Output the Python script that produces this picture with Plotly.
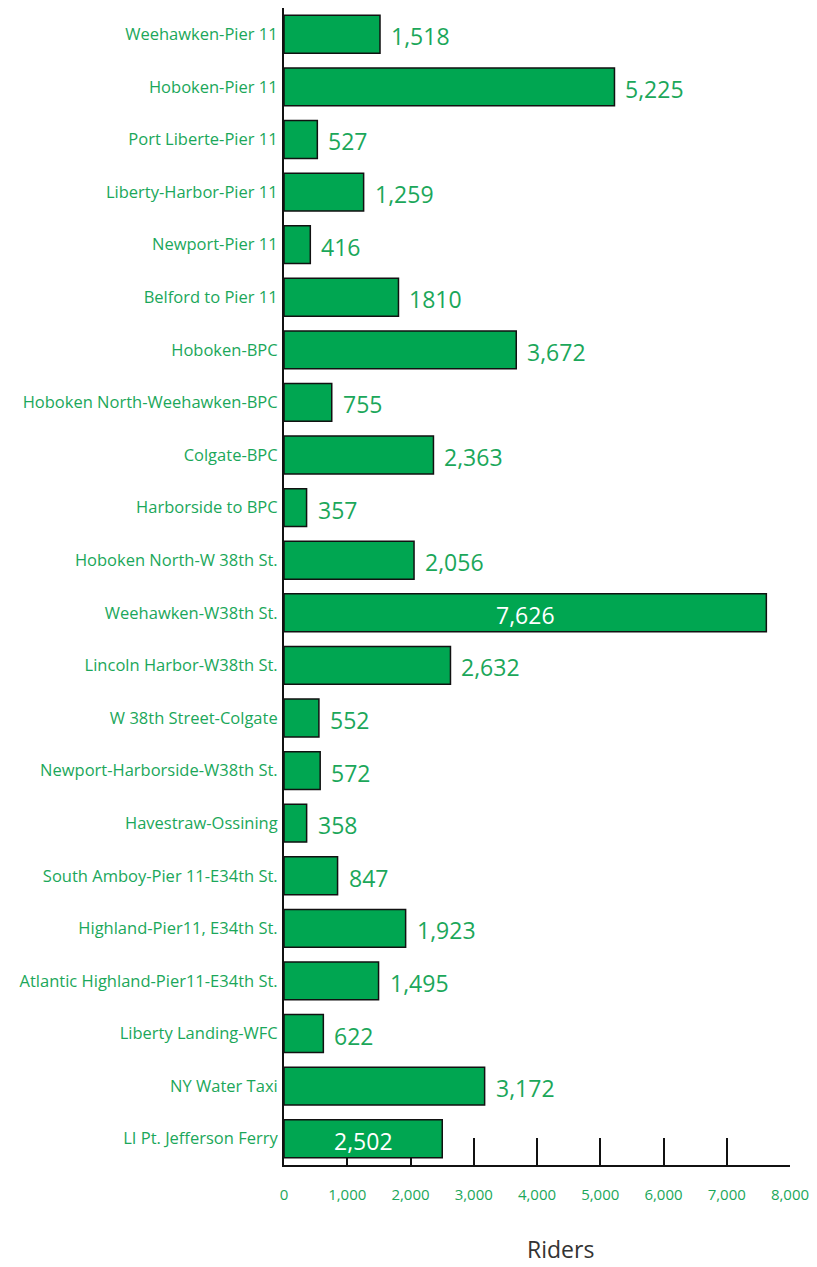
import plotly.graph_objects as go

routes = [
    "Weehawken-Pier 11", "Hoboken-Pier 11", "Port Liberte-Pier 11", "Liberty-Harbor-Pier 11",
    "Newport-Pier 11", "Belford to Pier 11", "Hoboken-BPC", "Hoboken North-Weehawken-BPC",
    "Colgate-BPC", "Harborside to BPC", "Hoboken North-W 38th St.", "Weehawken-W38th St.",
    "Lincoln Harbor-W38th St.", "W 38th Street-Colgate", "Newport-Harborside-W38th St.",
    "Havestraw-Ossining", "South Amboy-Pier 11-E34th St.", "Highland-Pier11, E34th St.",
    "Atlantic Highland-Pier11-E34th St.", "Liberty Landing-WFC", "NY Water Taxi",
    "LI Pt. Jefferson Ferry",
]
riders = [1518, 5225, 527, 1259, 416, 1810, 3672, 755, 2363, 357, 2056, 7626,
          2632, 552, 572, 358, 847, 1923, 1495, 622, 3172, 2502]
value_labels = ["1,518", "5,225", "527", "1,259", "416", "1810", "3,672", "755", "2,363",
                "357", "2,056", "7,626", "2,632", "552", "572", "358", "847", "1,923",
                "1,495", "622", "3,172", "2,502"]
inside_labels = {"Weehawken-W38th St.", "LI Pt. Jefferson Ferry"}
x_ticks = [0, 1000, 2000, 3000, 4000, 5000, 6000, 7000, 8000]
x_tick_text = ["0", "1,000", "2,000", "3,000", "4,000", "5,000", "6,000", "7,000", "8,000"]

GREEN = "#00a651"
TEXT_GREEN = "#1ba75a"
FONT = "Open Sans"

fig = go.Figure()
fig.add_trace(go.Bar(
    y=routes, x=riders, orientation="h",
    marker=dict(color=GREEN, line=dict(color="#111111", width=1.5)),
    width=0.72,
    hoverinfo="skip",
))

for r, v, lab in zip(routes, riders, value_labels):
    if r in inside_labels:
        fig.add_annotation(x=v / 2, y=r, text=lab, showarrow=False,
                           xanchor="center", yanchor="middle", yshift=-2,
                           font=dict(family=FONT, size=23, color="white"))
    else:
        fig.add_annotation(x=v, y=r, text=lab, showarrow=False,
                           xanchor="left", yanchor="middle", xshift=9, yshift=-2,
                           font=dict(family=FONT, size=23, color=TEXT_GREEN))

fig.add_annotation(x=0.547, y=-0.0722, xref="paper", yref="paper", text="Riders",
                   showarrow=False, xanchor="center", yanchor="middle",
                   font=dict(family=FONT, size=23, color="#333333"))

fig.update_layout(
    width=817, height=1267,
    margin=dict(l=284, r=25, t=8, b=102),
    plot_bgcolor="white", paper_bgcolor="white",
    showlegend=False,
    bargap=0.28,
)
fig.update_xaxes(
    range=[0, 8000], tickvals=x_ticks, ticktext=x_tick_text,
    ticks="inside", ticklen=27, tickwidth=2, tickcolor="#111111",
    showline=True, linecolor="#111111", linewidth=2,
    showgrid=False, zeroline=False, layer="below traces",
    tickfont=dict(family=FONT, size=15, color=TEXT_GREEN),
    ticklabelstandoff=15, fixedrange=True,
)
fig.update_yaxes(
    autorange="reversed", showline=True, linecolor="#111111", linewidth=2,
    showgrid=False, ticks="", ticklabelstandoff=1,
    tickfont=dict(family=FONT, size=16.5, color=TEXT_GREEN),
    layer="below traces", fixedrange=True,
)

fig.write_html("out.html",
               config={"displayModeBar": False},
               post_script="document.body.style.margin='0';document.body.style.overflow='hidden';")
